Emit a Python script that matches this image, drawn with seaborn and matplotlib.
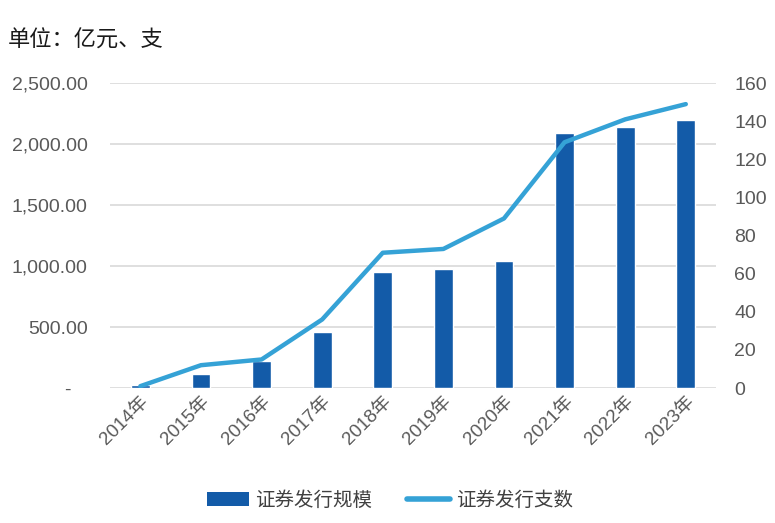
import matplotlib
matplotlib.use("Agg")
import matplotlib.pyplot as plt
import matplotlib.ticker as mticker
from matplotlib.patches import Patch
from matplotlib.lines import Line2D
import seaborn as sns
import numpy as np
import pandas as pd

years = ["2014年", "2015年", "2016年", "2017年", "2018年", "2019年", "2020年", "2021年", "2022年", "2023年"]
issue_scale = [27, 117, 224, 461, 951, 976, 1041, 2088, 2137, 2195]
issue_count = [1, 12, 15, 36, 71, 73, 89, 129, 141, 149]
left_ticks = [0, 500, 1000, 1500, 2000, 2500]
right_ticks = [0, 20, 40, 60, 80, 100, 120, 140, 160]

sns.set_theme(style="white")
plt.rcParams['font.family'] = ['Liberation Sans', 'Noto Sans CJK SC', 'DejaVu Sans']

bar_color = "#135BA8"
line_color = "#35A2D6"
tick_color = "#595959"

df = pd.DataFrame({"year": years, "scale": issue_scale, "count": issue_count,
                   "pos": np.arange(len(years))})

fig = plt.figure(figsize=(7.75, 5.23), dpi=100)
ax = fig.add_axes([0.142, 0.258, 0.782, 0.583])
sns.barplot(data=df, x="year", y="scale", color=bar_color, width=0.31,
            saturation=1, ax=ax)
ax.set_xlim(-0.5, len(years) - 0.5)
ax.set_ylim(0, 2500)
ax.set_yticks(left_ticks)
ax.yaxis.set_major_formatter(mticker.FuncFormatter(lambda v, p: "-   " if v == 0 else f"{v:,.2f}"))
ax.grid(axis="y", color="#D9D9D9", linewidth=1.2)
ax.set_axisbelow(True)
for s in ax.spines.values():
    s.set_visible(False)
ax.set_xlabel("")
ax.set_ylabel("")
ax.tick_params(axis="y", colors=tick_color, labelsize=14, length=0, pad=16)
ax.tick_params(axis="x", colors=tick_color, labelsize=13.5, length=0, pad=4)
for lbl in ax.get_xticklabels():
    lbl.set_rotation(45)
    lbl.set_ha("right")
    lbl.set_rotation_mode("anchor")

ax2 = ax.twinx()
sns.lineplot(data=df, x="pos", y="count", color=line_color, linewidth=3.2, ax=ax2)
ax2.set_ylim(0, 160)
ax2.set_yticks(right_ticks)
ax2.set_ylabel("")
ax2.set_xlabel("")
for s in ax2.spines.values():
    s.set_visible(False)
ax2.tick_params(axis="y", colors=tick_color, labelsize=14, length=0, pad=13)
ax2.grid(False)
ax2.set_xlim(-0.5, len(years) - 0.5)

fig.text(0.010, 0.924, "单位：亿元、支", fontsize=16, color="#1a1a1a", ha="left", va="center",
         family=['Noto Sans CJK SC', 'DejaVu Sans'])

handles = [Patch(facecolor=bar_color, edgecolor="none"),
           Line2D([0], [0], color=line_color, linewidth=4, solid_capstyle="round")]
fig.legend(handles, ["证券发行规模", "证券发行支数"], loc="center", bbox_to_anchor=(0.503, 0.043),
           ncol=2, frameon=False, fontsize=14, handlelength=2.2, columnspacing=1.8,
           labelcolor="#404040", handletextpad=0.3,
           prop={'family': ['Noto Sans CJK SC', 'DejaVu Sans'], 'size': 14})

fig.savefig("out.png", dpi=100)
